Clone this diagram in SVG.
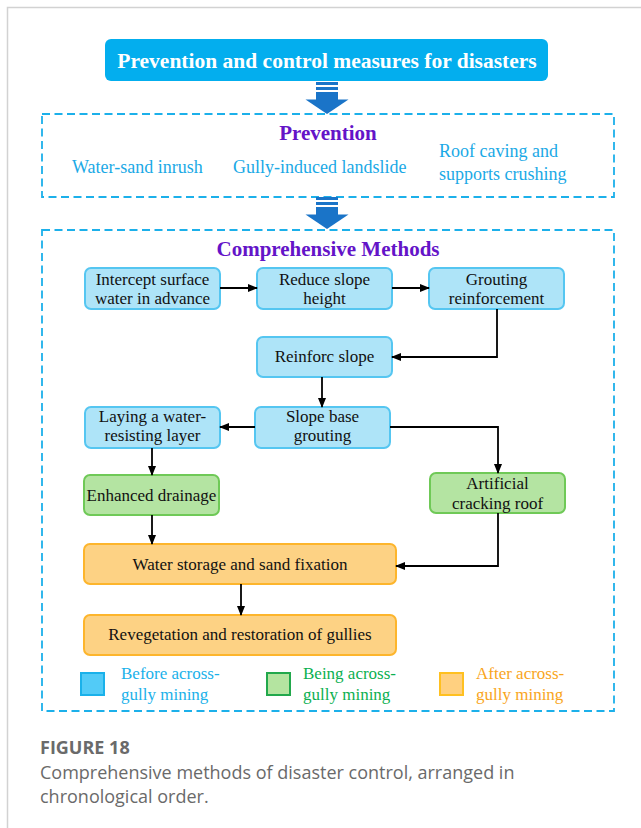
<svg xmlns="http://www.w3.org/2000/svg" width="641" height="828" viewBox="0 0 641 828">
<defs>
<style>
.frame{fill:none;stroke:#d2d2d2;stroke-width:1.5}
.dash{fill:none;stroke:#1cb0ea;stroke-width:1.8;stroke-dasharray:8 4.5}
.blk{fill:#1a74c8}
.bb{fill:#aee4f8;stroke:#55c6f1;stroke-width:2}
.gb{fill:#b4e4a2;stroke:#6fc957;stroke-width:2}
.ob{fill:#fdd284;stroke:#fdb52c;stroke-width:2}
.t{font-family:"Liberation Serif","Times New Roman",serif;font-size:17px;fill:#111;text-anchor:middle}
.pv{font-family:"Liberation Serif","Times New Roman",serif;font-size:18px;fill:#1aa9e6}
.hd{font-family:"Liberation Serif","Times New Roman",serif;font-size:21px;font-weight:bold;fill:#6414c8;text-anchor:middle}
.lg{font-family:"Liberation Serif","Times New Roman",serif;font-size:17px}
.con{fill:none;stroke:#000;stroke-width:1.8;marker-end:url(#ah)}
.cap{font-family:"Open Sans","Noto Sans",sans-serif;fill:#6a6a6a}
</style>
<marker id="ah" viewBox="0 0 10 10" refX="9" refY="5" markerWidth="10" markerHeight="10" markerUnits="userSpaceOnUse" orient="auto">
<path d="M0,1 L10,5 L0,9 Z" fill="#000"/>
</marker>
<g id="blockArrow">
<rect x="-11" y="0" width="22" height="3" class="blk"/>
<rect x="-11" y="5" width="22" height="3" class="blk"/>
<rect x="-11" y="10" width="22" height="8" class="blk"/>
<path d="M-21.5,17.5 L21.5,17.5 L0,32 Z" class="blk"/>
</g>
</defs>
<rect width="641" height="828" fill="#fff"/>
<path class="frame" d="M7.5,828 V7.5 H641"/>

<g id="title">
<rect x="105" y="39" width="443" height="42" rx="6" fill="#03aeee"/>
<text x="327" y="68" font-family="'Liberation Serif','Times New Roman',serif" font-size="21.5" font-weight="bold" fill="#fff" text-anchor="middle">Prevention and control measures for disasters</text>
</g>
<use href="#blockArrow" x="327" y="82"/>

<g id="prevention">
<rect class="dash" x="42" y="114" width="572" height="83"/>
<text class="hd" x="328" y="140">Prevention</text>
<text class="pv" x="72" y="173">Water-sand inrush</text>
<text class="pv" x="233" y="173">Gully-induced landslide</text>
<text class="pv" x="439" y="157">Roof caving and</text>
<text class="pv" x="439" y="180">supports crushing</text>
</g>
<use href="#blockArrow" x="327" y="197"/>

<g id="methods">
<rect class="dash" x="42" y="230" width="572" height="481"/>
<text class="hd" x="328" y="256">Comprehensive Methods</text>
</g>

<g id="intercept"><rect class="bb" x="85" y="268" width="135" height="41" rx="6"/><text class="t" x="152.5" y="285">Intercept surface</text><text class="t" x="152.5" y="304">water in advance</text></g>
<g id="reduce"><rect class="bb" x="257" y="268" width="135" height="41" rx="6"/><text class="t" x="324.5" y="285">Reduce slope</text><text class="t" x="324.5" y="304">height</text></g>
<g id="grouting"><rect class="bb" x="429" y="268" width="135" height="41" rx="6"/><text class="t" x="496.5" y="285">Grouting</text><text class="t" x="496.5" y="304">reinforcement</text></g>
<g id="reinforc"><rect class="bb" x="257" y="337" width="135" height="40" rx="6"/><text class="t" x="324.5" y="362">Reinforc slope</text></g>
<g id="slopebase"><rect class="bb" x="255" y="407" width="135" height="41" rx="6"/><text class="t" x="322.5" y="422">Slope base</text><text class="t" x="322.5" y="441">grouting</text></g>
<g id="laying"><rect class="bb" x="85" y="407" width="135" height="41" rx="6"/><text class="t" x="152.5" y="422">Laying a water-</text><text class="t" x="152.5" y="441">resisting layer</text></g>
<g id="drainage"><rect class="gb" x="84" y="475" width="135" height="40" rx="6"/><text class="t" x="151.5" y="500.5">Enhanced drainage</text></g>
<g id="cracking"><rect class="gb" x="430" y="473" width="135" height="40" rx="6"/><text class="t" x="497.5" y="489">Artificial</text><text class="t" x="497.5" y="509">cracking roof</text></g>
<g id="storage"><rect class="ob" x="84" y="544" width="312" height="40" rx="6"/><text class="t" x="240" y="569.5">Water storage and sand fixation</text></g>
<g id="reveg"><rect class="ob" x="84" y="615" width="312" height="40" rx="6"/><text class="t" x="240" y="640">Revegetation and restoration of gullies</text></g>

<g id="connectors">
<path class="con" d="M220,288 H257"/>
<path class="con" d="M392,288 H429"/>
<path class="con" d="M497,309 V357 H392"/>
<path class="con" d="M322,377 V407"/>
<path class="con" d="M255,427 H220"/>
<path class="con" d="M390,427 H498 V473"/>
<path class="con" d="M152,448 V475"/>
<path class="con" d="M152,515 V544"/>
<path class="con" d="M498,513 V566 H396"/>
<path class="con" d="M241,584 V615"/>
</g>

<g id="legend">
<rect x="81" y="673" width="23" height="22" fill="#52cbf7" stroke="#1ab1ea" stroke-width="2"/>
<text class="lg" x="121" y="679" fill="#1ab1ea">Before across-</text>
<text class="lg" x="121" y="700" fill="#1ab1ea">gully mining</text>
<rect x="267" y="673" width="23" height="22" fill="#b4e4a0" stroke="#22a84c" stroke-width="2"/>
<text class="lg" x="303" y="679" fill="#0bb050">Being across-</text>
<text class="lg" x="303" y="700" fill="#0bb050">gully mining</text>
<rect x="440" y="673" width="23" height="22" fill="#ffd080" stroke="#ffc020" stroke-width="2"/>
<text class="lg" x="476" y="679" fill="#f9a51b">After across-</text>
<text class="lg" x="476" y="700" fill="#f9a51b">gully mining</text>
</g>

<g id="caption">
<text class="cap" x="40" y="754" font-size="18" font-weight="bold">FIGURE 18</text>
<text class="cap" x="40" y="779" font-size="18">Comprehensive methods of disaster control, arranged in</text>
<text class="cap" x="40" y="803" font-size="18">chronological order.</text>
</g>
</svg>
